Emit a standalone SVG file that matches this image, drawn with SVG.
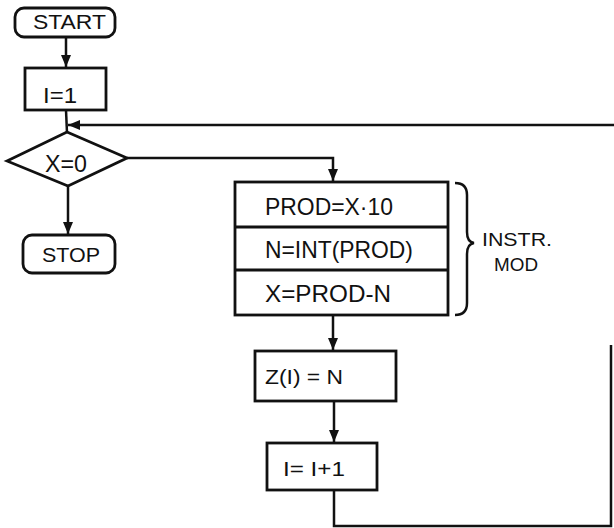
<svg xmlns="http://www.w3.org/2000/svg" width="614" height="528" viewBox="0 0 614 528">
<style>
.box{fill:#fff;stroke:#111;stroke-width:2.8}
.con{fill:none;stroke:#111;stroke-width:2.5}
.t{font-family:"Liberation Sans",Arial,sans-serif;fill:#111}
</style>
<defs>
<marker id="ah" markerUnits="userSpaceOnUse" markerWidth="12" markerHeight="14" refX="12" refY="6" orient="auto" viewBox="0 0 12 12">
<path d="M0,1 L12,6 L0,11 Z" fill="#111"/>
</marker>
</defs>
<rect width="614" height="528" fill="#fff"/>
<g id="connectors">
<line class="con" x1="66" y1="37" x2="66" y2="67" marker-end="url(#ah)"/>
<line class="con" x1="66" y1="110" x2="67" y2="133"/>
<line class="con" x1="68" y1="186" x2="68" y2="234" marker-end="url(#ah)"/>
<polyline class="con" points="127,158 333,158 333,181" marker-end="url(#ah)"/>
<line class="con" x1="333" y1="315" x2="333" y2="350" marker-end="url(#ah)"/>
<line class="con" x1="334" y1="401" x2="334" y2="442" marker-end="url(#ah)"/>
<polyline class="con" points="334,490 334,526 611,526 611,345"/>
<line class="con" x1="614" y1="125" x2="68" y2="125" marker-end="url(#ah)"/>
</g>
<g id="start">
<rect class="box" x="15" y="8" width="100" height="29" rx="9"/>
<text class="t" x="33" y="29" font-size="20" textLength="73" lengthAdjust="spacingAndGlyphs">START</text>
</g>
<g id="init">
<rect class="box" x="25" y="68" width="81" height="42"/>
<text class="t" x="43" y="103" font-size="22" textLength="34" lengthAdjust="spacingAndGlyphs">I=1</text>
</g>
<g id="decision">
<polygon class="box" points="7,161 67,132 127,158 68,186"/>
<text class="t" x="45" y="172" font-size="23" textLength="42" lengthAdjust="spacingAndGlyphs">X=0</text>
</g>
<g id="stop">
<rect class="box" x="23" y="235" width="92" height="38" rx="9"/>
<text class="t" x="42" y="262" font-size="21" textLength="58" lengthAdjust="spacingAndGlyphs">STOP</text>
</g>
<g id="instr-mod">
<rect class="box" x="235" y="182" width="213" height="133"/>
<line class="box" x1="235" y1="227" x2="448" y2="227"/>
<line class="box" x1="235" y1="270" x2="448" y2="270"/>
<text class="t" x="265" y="215" font-size="24" textLength="128" lengthAdjust="spacingAndGlyphs">PROD=X·10</text>
<text class="t" x="265" y="258" font-size="24" textLength="148" lengthAdjust="spacingAndGlyphs">N=INT(PROD)</text>
<text class="t" x="265" y="302" font-size="24" textLength="126" lengthAdjust="spacingAndGlyphs">X=PROD-N</text>
</g>
<g id="brace">
<path class="con" d="M455,183 Q467,183 467,195 L467,232 Q467,242 474,243 Q467,244 467,254 L467,303 Q467,315 455,315"/>
<text class="t" x="482" y="246" font-size="19" textLength="70" lengthAdjust="spacingAndGlyphs">INSTR.</text>
<text class="t" x="494" y="271" font-size="19" textLength="44" lengthAdjust="spacingAndGlyphs">MOD</text>
</g>
<g id="store">
<rect class="box" x="255" y="351" width="141" height="50"/>
<text class="t" x="265" y="384" font-size="21" textLength="78" lengthAdjust="spacingAndGlyphs">Z(I) = N</text>
</g>
<g id="incr">
<rect class="box" x="267" y="443" width="110" height="47"/>
<text class="t" x="283" y="476" font-size="20" textLength="62" lengthAdjust="spacingAndGlyphs">I= I+1</text>
</g>
</svg>
